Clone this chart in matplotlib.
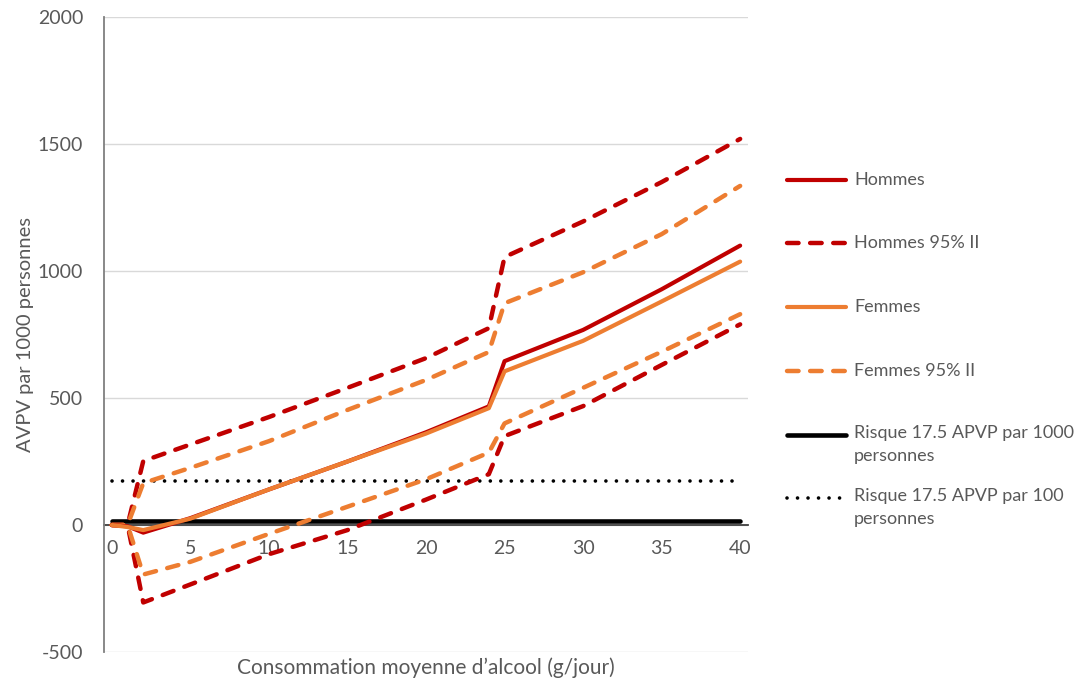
import matplotlib
matplotlib.use("Agg")
import matplotlib.pyplot as plt
from matplotlib.lines import Line2D

# consommation (g/jour)
x = [0, 1, 2, 5, 10, 15, 20, 24, 25, 30, 35, 40]

hommes = [0, -5, -30, 27, 140, 250, 365, 467, 645, 768, 928, 1100]
hommes_haut = [0, 0, 252, 317, 425, 540, 657, 775, 1055, 1195, 1350, 1520]
hommes_bas = [0, 0, -305, -234, -115, -20, 100, 200, 350, 468, 630, 790]

femmes = [0, -8, -20, 25, 140, 250, 360, 460, 605, 725, 880, 1037]
femmes_haut = [0, 0, 165, 225, 330, 453, 571, 681, 873, 995, 1145, 1335]
femmes_bas = [0, 0, -195, -145, -35, 72, 180, 285, 400, 540, 682, 830]

risque_1000 = 17.5
risque_100 = 175

labels = ["Hommes", "Hommes 95% II", "Femmes", "Femmes 95% II",
          "Risque 17.5 APVP par 1000\npersonnes",
          "Risque 17.5 APVP par 100\npersonnes"]

ROUGE = "#C00000"
ORANGE = "#ED7D31"
GRIS = "#595959"

plt.rcParams["font.family"] = ["Lato", "DejaVu Sans"]
plt.rcParams["font.size"] = 13
plt.rcParams["axes.unicode_minus"] = False

fig = plt.figure(figsize=(10.85, 6.84), dpi=100)
ax = fig.add_axes([104 / 1085, 1 - 652 / 684, 644 / 1085, 635 / 684])

dash = dict(linestyle=(0, (2.6, 2.6)), dash_capstyle="round", lw=3.2)
plain = dict(lw=3, solid_capstyle="round", solid_joinstyle="round")
dots = dict(linestyle=(0, (0.01, 2.9)), dash_capstyle="round", lw=2.6)
thick = dict(lw=3.3, solid_capstyle="round")

styles = [
    (ROUGE, plain), (ROUGE, dash), (ORANGE, plain), (ORANGE, dash),
    ("black", thick), ("black", dots),
]

ax.plot(x, [risque_1000] * len(x), color="black", **thick, zorder=3)
ax.plot(x, [risque_100] * len(x), color="black", **dots, zorder=3)
ax.plot(x, hommes_haut, color=ROUGE, **dash, zorder=4)
ax.plot(x, hommes_bas, color=ROUGE, **dash, zorder=4)
ax.plot(x, femmes_haut, color=ORANGE, **dash, zorder=4)
ax.plot(x, femmes_bas, color=ORANGE, **dash, zorder=4)
ax.plot(x, hommes, color=ROUGE, **plain, zorder=5)
ax.plot(x, femmes, color=ORANGE, **plain, zorder=5)

ax.set_xlim(-0.5, 40.5)
ax.set_ylim(-500, 2000)
ax.set_xticks(range(0, 41, 5))
ax.set_yticks(range(-500, 2001, 500))
ax.grid(axis="y", color="#D9D9D9", lw=1)
ax.set_axisbelow(True)

for side in ["top", "right"]:
    ax.spines[side].set_visible(False)
ax.spines["left"].set_color("#7F7F7F")
ax.spines["left"].set_linewidth(1.3)
ax.spines["bottom"].set_position(("data", 0))
ax.spines["bottom"].set_color("#404040")
ax.spines["bottom"].set_linewidth(1.3)
ax.spines["bottom"].set_zorder(2)

ax.tick_params(axis="both", length=0, colors=GRIS, labelsize=14)
ax.tick_params(axis="x", pad=11)
ax.tick_params(axis="y", pad=15)

ax.set_ylabel("AVPV par 1000 personnes", color=GRIS, fontsize=14.5)
ax.yaxis.set_label_coords(-0.108, 0.5)
fig.text(426 / 1085, 1 - 668 / 684, "Consommation moyenne d\u2019alcool (g/jour)",
         ha="center", va="center", color=GRIS, fontsize=15)

# legend drawn by hand so the line sits on the first text line
rows = [180, 243, 307, 371, 435, 498]
for (col, st), lab, yp in zip(styles, labels, rows):
    yf = 1 - yp / 684
    fig.add_artist(Line2D([787 / 1085, 846 / 1085], [yf, yf], color=col, **st))
    if "\n" in lab:
        fig.text(854 / 1085, yf + 10 / 684, lab, ha="left", va="top",
                 color=GRIS, fontsize=13, linespacing=1.55)
    else:
        fig.text(854 / 1085, yf, lab, ha="left", va="center",
                 color=GRIS, fontsize=13)

fig.savefig("out.png", dpi=100)
